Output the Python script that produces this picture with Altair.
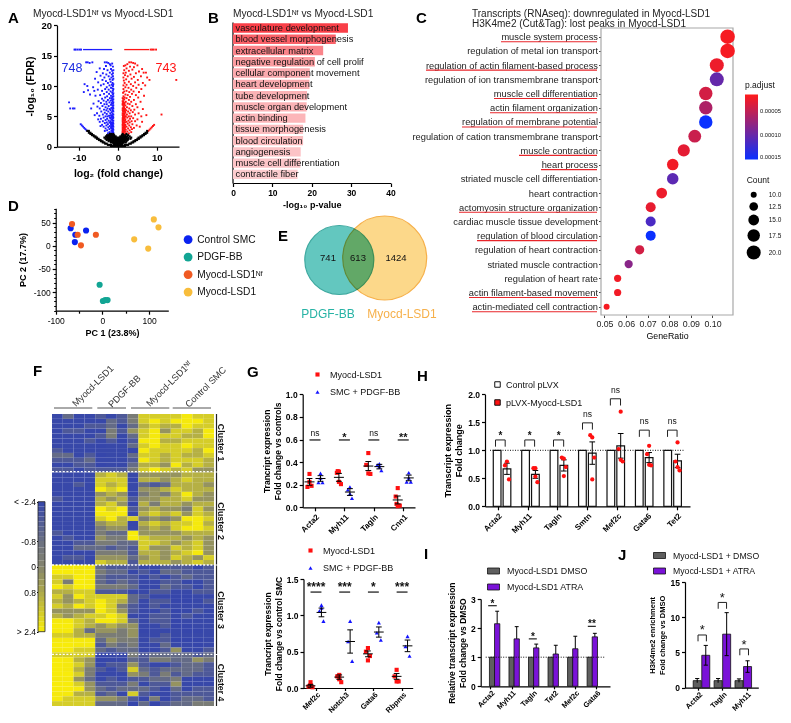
import altair as alt
import numpy as np
import pandas as pd

F = "Liberation Sans"
W, H = 775, 707

# ---------- DATA ----------
blue_pts = [(-8.2,13.9),(-7.8,13.9),(-7.3,13.8),(-6.6,13.9),(-3.4,13.9),(-2.9,13.9),(-2.5,13.8),(-2.1,13.6),(-3.1,13.3),(-1.9,13.4),(-1.5,13.7),(-1.3,13.2),
(-4.7,12.9),(-3.6,12.8),(-2.7,12.6),(-1.8,12.8),(-5.5,12.3),(-2.1,12.2),(-3.9,12.1),(-1.5,12.5),(-1.3,12.1),
(-3.0,11.9),(-1.6,11.9),(-4.5,11.7),(-2.4,11.6),(-1.7,11.4),(-3.5,11.4),(-5.9,11.2),(-1.3,11.6),(-2.1,11.1),(-1.4,11.0),(-4.0,11.0),
(-3.1,10.8),(-1.9,10.7),(-2.6,10.5),(-5.1,10.6),(-1.4,10.5),(-3.7,10.3),(-1.6,10.2),(-2.2,10.1),(-8.6,10.3),(-7.9,10.0),(-4.4,10.1),(-1.3,10.0),
(-2.9,9.8),(-1.8,9.7),(-6.4,9.8),(-1.4,9.6),(-3.3,9.5),(-2.4,9.4),(-7.7,9.3),(-5.2,9.4),(-1.3,9.2),(-1.9,9.1),(-4.1,9.2),(-8.8,9.0),(-2.9,9.0),(-6.1,9.2),
(-1.5,8.9),(-3.6,8.7),(-2.3,8.7),(-1.3,8.6),(-4.6,8.5),(-1.8,8.4),(-2.8,8.3),(-5.8,8.4),(-1.4,8.2),(-3.3,8.1),(-7.2,8.6),(-2.1,8.0),(-1.6,8.0),
(-4.1,7.9),(-1.3,7.8),(-2.6,7.7),(-1.9,7.6),(-3.7,7.6),(-1.4,7.5),(-5.0,7.5),(-3.0,7.4),(-2.2,7.3),(-1.6,7.2),(-1.3,7.1),(-4.4,7.2),(-6.3,7.1),(-2.9,7.0),(-3.5,7.0),
(-1.8,6.9),(-1.4,6.8),(-2.4,6.7),(-4.0,6.7),(-5.3,6.6),(-1.3,6.5),(-3.2,6.5),(-1.7,6.4),(-2.7,6.3),(-4.7,6.3),(-2.1,6.2),(-1.4,6.1),(-3.6,6.1),(-6.9,6.3),(-1.9,6.0),(-3.0,6.0),
(-1.3,5.9),(-2.5,5.8),(-4.3,5.8),(-1.6,5.7),(-3.4,5.6),(-2.0,5.5),(-5.4,5.5),(-1.4,5.4),(-2.9,5.4),(-3.9,5.3),(-1.8,5.2),(-2.3,5.1),(-1.3,5.0),(-4.8,5.1),(-3.2,5.0),(-2.7,5.0),(-6.0,5.2),
(-1.5,4.9),(-3.7,4.8),(-2.1,4.8),(-1.3,4.7),(-4.4,4.6),(-2.8,4.6),(-1.7,4.5),(-5.1,4.5),(-3.2,4.4),(-2.4,4.3),(-1.4,4.3),(-1.9,4.2),(-3.9,4.2),(-1.3,4.0),(-2.9,4.0),(-4.7,4.1),(-2.2,4.0),(-1.6,3.95),
(-3.4,3.9),(-1.4,3.8),(-2.6,3.7),(-1.8,3.7),(-4.1,3.6),(-1.3,3.5),(-3.0,3.5),(-2.1,3.4),(-3.7,3.3),(-1.5,3.3),(-2.5,3.2),(-1.8,3.1),(-1.3,3.0),(-3.2,3.0),(-4.5,3.4),(-2.2,2.9),
(-1.4,2.8),(-2.8,2.7),(-1.7,2.6),(-1.3,2.5),(-2.2,2.4),(-3.4,2.6),(-1.5,2.3),(-1.9,2.2),(-1.3,2.1),(-2.6,2.2),
(-1.2,2.3),(-1.2,2.8),(-1.2,3.3),(-1.2,3.8),(-1.2,4.3),(-1.2,4.8),(-1.2,5.3),(-1.2,5.8),(-1.2,6.3),(-1.2,6.8),(-1.2,7.3),(-1.2,7.8),(-1.2,8.3),(-1.2,8.8),(-1.2,9.5),(-1.2,10.3),(-1.2,11.2),(-1.2,12.6),
(-1.5,2.7),(-1.5,3.6),(-1.5,4.5),(-1.5,5.1),(-1.5,6.4),(-1.5,7.7),(-1.6,3.0),(-1.7,3.4),(-1.9,3.9),(-1.7,4.9),(-1.9,4.7),
(-9.6,3.7),(-9.3,3.5),(-9.0,3.3),(-8.7,3.1),(-8.4,2.9),(-8.1,2.7),
(-12.6,7.3),(-12.3,6.3),(-11.6,6.3),(-11.2,6.3)]

red_pts = [(2.9,13.9),(3.4,13.9),(3.9,13.8),(4.4,13.7),(2.4,13.6),(1.9,13.4),(5.0,13.4),(3.1,13.2),(1.5,13.3),(4.1,13.1),
(2.2,12.9),(6.2,12.8),(3.7,12.7),(1.6,12.6),(2.8,12.5),(5.4,12.4),(7.2,12.2),(2.0,12.2),(4.6,12.1),(6.6,12.2),(1.4,12.1),
(3.2,11.9),(1.8,11.8),(2.5,11.6),(5.9,11.6),(4.1,11.5),(1.4,11.4),(7.5,11.4),(3.5,11.2),(2.1,11.1),(8.1,11.0),(5.1,11.0),(1.5,10.9),
(2.8,10.7),(4.4,10.6),(1.7,10.5),(6.4,10.5),(3.3,10.3),(2.2,10.2),(1.4,10.1),(5.3,10.2),(3.9,10.0),(7.0,10.1),
(1.9,9.8),(2.7,9.7),(4.7,9.7),(1.4,9.5),(3.4,9.4),(6.0,9.5),(2.2,9.2),(1.6,9.1),(4.0,9.1),(2.9,9.0),(5.4,9.0),
(1.3,8.9),(3.6,8.7),(1.9,8.6),(2.5,8.5),(4.6,8.5),(1.4,8.3),(6.7,8.4),(3.1,8.2),(1.7,8.1),(2.2,8.0),(5.2,8.1),
(1.3,7.9),(1.6,7.8),(2.8,7.7),(4.1,7.7),(1.4,7.5),(2.0,7.4),(3.4,7.4),(5.8,7.4),(1.3,7.2),(1.7,7.2),(2.5,7.1),(4.6,7.0),(1.5,7.0),(3.0,7.0),
(1.2,6.9),(1.9,6.8),(1.4,6.7),(3.7,6.7),(1.6,6.5),(2.3,6.5),(5.0,6.5),(1.3,6.3),(2.9,6.3),(1.8,6.2),(1.4,6.1),(4.2,6.1),(2.1,6.0),(3.3,6.0),(6.4,6.2),(1.2,6.0),
(1.6,5.9),(1.3,5.8),(2.6,5.8),(3.8,5.7),(1.9,5.6),(1.4,5.5),(3.0,5.5),(5.3,5.5),(1.7,5.3),(2.3,5.3),(1.2,5.2),(4.4,5.3),(1.5,5.1),(3.4,5.0),(2.0,5.0),(2.8,5.0),(7.3,5.2),(6.0,5.0),
(1.3,4.9),(1.7,4.8),(2.4,4.8),(3.9,4.7),(1.4,4.6),(3.1,4.6),(1.9,4.5),(5.0,4.5),(1.2,4.4),(2.7,4.3),(1.6,4.3),(3.5,4.2),(2.2,4.1),(4.4,4.2),(1.4,4.0),(6.2,4.1),(1.8,4.0),(3.0,4.0),
(1.3,3.9),(2.5,3.8),(1.6,3.7),(3.7,3.7),(1.9,3.6),(1.2,3.5),(2.9,3.5),(4.8,3.5),(1.5,3.3),(2.2,3.3),(3.3,3.2),(1.8,3.2),(1.3,3.1),(2.6,3.0),(4.1,3.1),(5.6,3.3),(1.6,2.95),(3.6,2.9),
(1.2,2.9),(2.0,2.8),(3.0,2.7),(1.4,2.7),(1.8,2.5),(2.4,2.5),(1.2,2.4),(3.4,2.4),(1.5,2.3),(2.0,2.2),(1.3,2.1),(2.8,2.2),(1.6,2.05),
(1.2,2.2),(1.2,2.6),(1.2,3.2),(1.2,3.7),(1.2,4.1),(1.2,4.7),(1.2,5.5),(1.2,6.3),(1.2,7.1),(1.2,7.5),(1.2,8.0),(1.4,2.5),(1.4,3.0),(1.4,3.4),(1.4,3.8),(1.4,4.4),(1.4,4.9),(1.4,5.3),(1.4,5.9),(1.4,6.4),(1.4,7.0),
(1.6,2.6),(1.6,3.3),(1.6,4.0),(1.6,4.7),(1.6,5.5),(1.6,6.1),(1.6,6.9),(1.8,2.9),(1.8,3.5),(1.8,4.3),(1.8,5.0),(1.8,5.8),
(9.3,3.6),(9.0,3.4),(8.7,3.2),(8.4,3.0),(8.1,2.8),(7.8,2.6),(15.0,11.0),(11.2,5.3)]

black_rows = [
 (0.1, [-1.8,-1.4,-1.0,-0.6,-0.2,0.2,0.6,1.0,1.4,1.8]),
 (0.3, [-2.6,-2.2,-1.8,-1.0,-0.6,-0.2,0.2,0.6,1.0,1.8,2.2,2.6]),
 (0.5, [-3.3,-2.9,-1.2,-0.8,-0.4,0.0,0.4,0.8,1.2,2.9,3.3]),
 (0.7, [-3.9,-3.5,-1.8,-1.3,-0.9,-0.5,-0.1,0.3,0.7,1.1,1.5,2.0,3.5,3.9]),
 (0.9, [-4.4,-4.0,-2.4,-1.9,-1.5,-1.1,-0.7,-0.3,0.1,0.5,0.9,1.3,1.7,2.2,4.0,4.4]),
 (1.1, [-4.9,-4.5,-2.9,-2.4,-2.0,-1.6,-1.2,-0.8,-0.4,0.0,0.4,0.8,1.2,1.6,2.0,2.5,4.5,4.9]),
 (1.3, [-5.4,-5.0,-3.2,-2.7,-2.3,-1.9,-1.5,-1.1,-0.7,-0.3,0.1,0.5,0.9,1.3,1.7,2.1,2.6,3.2,5.0,5.4]),
 (1.5, [-5.8,-5.4,-3.5,-3.0,-2.6,-2.2,-1.8,-1.4,-1.0,-0.6,-0.2,0.2,0.6,1.0,1.4,1.8,2.2,2.7,3.4,5.3,5.8]),
 (1.7, [-6.2,-5.8,-3.1,-2.6,-2.2,-1.8,-1.4,-1.0,-0.6,0.6,1.0,1.4,1.8,2.3,3.0,5.8,6.2]),
 (1.9, [-6.7,-6.3,-2.8,-2.3,-1.8,-1.4,-1.0,1.0,1.4,1.9,2.6,6.3,6.7]),
 (2.1, [-7.1,-6.7,-2.1,-1.7,-1.2,1.2,2.2,6.7,7.1]),
 (2.3, [-7.5,-7.1,7.1,7.5]),
 (2.6, [-7.9,-7.5,7.5]),
]
top_blue_bars = [(-9.0, -1.5)]
top_blue_dots = [-11.2, -10.9, -10.4, -9.9, -9.5]
top_red_bars = [(1.6, 8.0)]
top_red_dots = [8.4, 8.8, 9.2, 9.8]

go_terms = ["vasculature development","blood vessel morphogenesis","extracellular matrix","negative regulation of cell prolif",
 "cellular component movement","heart development","tube development","muscle organ development","actin binding",
 "tissue morphogenesis","blood circulation","angiogenesis","muscle cell differentiation","contractile fiber"]
go_vals = [29.2,26.1,22.9,20.8,19.5,19.4,18.8,18.7,18.4,17.8,17.8,17.2,17.1,16.4]

c_terms = ["muscle system process","regulation of metal ion transport","regulation of actin filament-based process",
 "regulation of ion transmembrane transport","muscle cell differentiation","actin filament organization",
 "regulation of membrane potential","regulation of cation transmembrane transport","muscle contraction","heart process",
 "striated muscle cell differentiation","heart contraction","actomyosin structure organization","cardiac muscle tissue development",
 "regulation of blood circulation","regulation of heart contraction","striated muscle contraction","regulation of heart rate",
 "actin filament-based movement","actin-mediated cell contraction"]
c_ratio = [0.107,0.107,0.102,0.102,0.0969,0.0969,0.0969,0.0918,0.0867,0.0816,0.0816,0.0765,0.0714,0.0714,0.0714,0.0663,0.0612,0.0561,0.0561,0.051]
c_count = [21,21,20,20,19,19,19,18,17,16,16,15,14,14,14,13,12,11,11,10]
c_padj = [2e-5,2e-5,2.5e-5,1.0e-4,4e-5,6e-5,1.5e-4,4.5e-5,3e-5,2.2e-5,1.05e-4,2.5e-5,2.8e-5,1.15e-4,1.5e-4,4e-5,8e-5,2.2e-5,2.2e-5,2e-5]
c_underline_start = {"muscle system process":501,"regulation of actin filament-based process":426,"muscle cell differentiation":494,
 "actin filament organization":490,"regulation of membrane potential":462,"muscle contraction":519,"heart process":541,
 "actomyosin structure organization":459,"regulation of blood circulation":477,"actin filament-based movement":469,
 "actin-mediated cell contraction":472}

pca_groups = ["Control SMC","PDGF-BB","Myocd-LSD1\u1d3a\u1da0","Myocd-LSD1"]
pca_colors = ["#0a22f0","#12a594","#f05a22","#f8bd3c"]
pca_pc1 = [[-68,-35,-58,-59],[-6,1,6,11],[-65,-53,-14,-46],[110,120,68,98]]
pca_pc2 = [[38,33,24,8],[-84,-119,-117,-117],[47,24,24,1],[57,40,14,-6]]

heat_rows = [
"1311 212 4777 7877","1111 132 4787 8887","1112 231 3676 6877","1221 142 5785 7768","1111 241 3787 7668","1112 120 2886 6777",
"1111 011 3787 7877","2111 111 1877 7768","3312 011 3776 7667","2223 111 2876 7776","1122 011 3665 8676","2212 222 4797 6755",
"1111 676 1555 5666","1111 777 0665 6766","1121 767 1323 6665","1111 878 1556 7666","1111 565 0454 6865","2111 656 2556 6755",
"1111 675 0646 6566","1111 979 2565 5475","1111 888 1676 7576","1111 786 7454 5887","1111 566 0676 7786","1111 455 1565 7887",
"2111 433 9555 5666","1211 544 9766 6565","1122 443 3776 5675","1133 323 2755 7675","1111 444 2665 6785","1221 555 3565 7657","1111 766 2666 5676",
"8888 322 2112 2212","9989 433 1213 3222","7798 322 2121 2322","7498 323 2112 2112","8799 444 3113 2212","6677 222 1122 1122",
"7587 777 3211 0011","6567 876 3122 0012","7687 974 2121 1111","5555 875 2112 0121","6567 787 1122 1211","8876 887 3122 0111",
"9976 565 5112 0011","8863 554 5011 1001","7766 444 5112 1111","8888 354 4122 0001","9988 243 4113 1101","8877 323 3112 5112",
"7777 011 4233 3323","9865 011 3244 3354","9875 122 5211 2332","9864 212 7323 3332","9974 111 5424 2322","8853 121 2233 4111",
"9975 222 4122 5111","9985 323 3321 3122","8866 231 7211 2222","8777 554 2141 2332","7777 333 0302 3344"]

g1_genes = ["Acta2","Myh11","Tagln","Cnn1"]
g1_red = [[.295,.18,.19,.225],[.315,.305,.205,.225,.32],[.48,.375,.295,.30],[.17,.095,.015,.01,.03]]
g1_blue = [[.30,.22,.22,.26],[.18,.155,.08,.12],[.385,.375,.325,.36],[.305,.225,.225,.26]]
g1_red_mean = [.225,.265,.365,.065]; g1_red_sem = [.03,.035,.04,.035]
g1_blue_mean = [.255,.135,.36,.26]; g1_blue_sem = [.025,.03,.02,.025]
g1_sig = ["ns","*","ns","**"]

g2_genes = ["Mef2c","Notch3","Gata6","Rbpms"]
g2_red = [[.08,.02,.01,.04],[.18,.16,.08,.12],[.55,.5,.44,.38],[.25,.16,.09,.09]]
g2_blue = [[1.14,1.06,.92,1.10],[.92,.64,.37],[.9,.76,.66],[.71,.57,.44]]
g2_red_mean = [.03,.15,.47,.16]; g2_red_sem = [.02,.03,.04,.04]
g2_blue_mean = [1.04,.64,.77,.58]; g2_blue_sem = [.06,.16,.07,.08]
g2_sig = ["****","***","*","***"]

h_genes = ["Acta2","Myh11","Tagln","Smtn","Mef2c","Gata6","Tet2"]
h_mean = [.67,.57,.73,.95,1.08,.87,.81]
h_sem = [.1,.07,.1,.2,.22,.09,.12]
h_pts = [[.8,.73,.48],[.68,.68,.43,.53],[.85,.87,.7,.54],[1.23,1.27,.87,.48],[1.69,1.02,.8,.83],[1.08,.93,.73,.74],[1.14,.8,.64,.7]]
h_sig = ["*","*","*","ns","ns","ns","ns"]
h_brk_top = [1.185,1.185,1.185,1.49,1.92,1.36,1.36]
h_brk_l = [-.23,-.2,-.19,-.17,-.19,-.17,-.18]
h_brk_r = [.11,.145,.167,.178,.167,.178,.156]

i_genes = ["Acta2","Myh11","Tagln","Tet2","Mef2c","Gata6"]
i_atra = [2.15,1.63,1.32,1.11,1.29,1.70]
i_atra_top = [2.58,2.05,1.45,1.41,1.72,1.82]

j_genes = ["Acta2","Tagln","Myh11"]
j_atra = [4.6,7.6,3.0]
j_atra_err = [1.4,3.05,.82]
j_dmso_err = [.3,.3,.25]

# ---------- HELPERS ----------
def SX(dom, a, b, **kw):
    return alt.Scale(domain=dom, range=[a - 8, b - 8], nice=False, zero=False, **kw)

def SY(dom, bot, top, **kw):
    return alt.Scale(domain=dom, range=[bot - 8, top - 8], nice=False, zero=False, **kw)

def base_axis(**kw):
    d = dict(grid=False, domainColor="#000", domainWidth=1.2, tickColor="#000", tickWidth=1.2, tickSize=3.5,
             labelColor="#000", labelFont=F, labelFontWeight="bold", labelFontSize=8.5, titleFont=F,
             titleFontWeight="bold", titleFontSize=8.5, titleColor="#000", labelOverlap=False, minExtent=0,
             labelFlush=False, labelPadding=2, labelLimit=320)
    d.update(kw)
    return alt.Axis(**d)

def ax_left(x, **kw):
    return base_axis(orient="left", offset=-(x - 8), **kw)

def ax_bottom(y, **kw):
    return base_axis(orient="bottom", offset=-(H - (y - 8)), **kw)

def T(text, x, y, size=9, weight="normal", color="#111", align="left", angle=0):
    return alt.Chart().mark_text(text=text, align=align, baseline="middle", fontSize=size, fontWeight=weight,
                                 font=F, color=color, angle=angle).encode(x=alt.value(x - 8), y=alt.value(y - 8))

def cats(names):
    return "[" + ",".join("'%s'" % n for n in names) + "][datum.value]"

def carrier(sx, sy, xaxis, yaxis):
    df = pd.DataFrame({"a": [sx.domain[0]], "b": [sy.domain[0]]})
    return alt.Chart(df).mark_point(opacity=0).encode(
        x=alt.X("a:Q", scale=sx, axis=xaxis), y=alt.Y("b:Q", scale=sy, axis=yaxis))

def segs(rows, sx, sy, width=1.0, color="#000", dash=None):
    df = pd.DataFrame(rows, columns=["x0", "x1", "y0", "y1"])
    kw = dict(strokeWidth=width, color=color)
    if dash:
        kw["strokeDash"] = dash
    return alt.Chart(df).mark_rule(**kw).encode(
        x=alt.X("x0:Q", scale=sx, axis=None), x2="x1:Q", y=alt.Y("y0:Q", scale=sy, axis=None), y2="y1:Q")

def labels(rows, sx, sy, size=9, weight="normal", dy=0):
    df = pd.DataFrame(rows, columns=["x", "y", "t"])
    return alt.Chart(df).mark_text(fontSize=size, fontWeight=weight, font=F, color="#111", dy=dy).encode(
        x=alt.X("x:Q", scale=sx, axis=None), y=alt.Y("y:Q", scale=sy, axis=None), text="t:N")

LEG = dict(labelFont=F, labelColor="#111", orient="none")
JIT = [0, -.07, .07, 0, -.04]
HYPH = "replace(datum.label,'\u2212','-')"
LOWTICK = dict(labelAngle=315, labelAlign="right", labelBaseline="top", title=None, labelFontSize=7.5, tickSize=2.5, labelPadding=0)

panels = []

# ---------- A ----------
sxA = SX([-15.7, 15.7], 57, 179)
syA = SY([0, 20], 146.7, 25.3)
def vol_layer(pts, color):
    df = pd.DataFrame(pts, columns=["fc", "q"])
    return alt.Chart(df).mark_point(filled=True, shape="square", size=3.6, color=color, opacity=1, strokeWidth=0).encode(
        x=alt.X("fc:Q", scale=sxA, axis=None), y=alt.Y("q:Q", scale=syA, axis=None))
black_pts = [(x, r[0]) for r in black_rows for x in r[1]]
panels.append(alt.layer(
    vol_layer(blue_pts, "#1c1cff"), vol_layer(red_pts, "#ff1414"),
    alt.Chart(pd.DataFrame(black_pts, columns=["fc", "q"])).mark_point(filled=True, shape="square", size=4.5, color="#000", opacity=1, strokeWidth=0).encode(
        x=alt.X("fc:Q", scale=sxA, axis=None), y=alt.Y("q:Q", scale=syA, axis=None)),
    vol_layer([(x, 16) for x in top_blue_dots], "#1c1cff"), vol_layer([(x, 16) for x in top_red_dots], "#ff1414"),
    segs([(a, b, 16, 16) for a, b in top_blue_bars], sxA, syA, 1.3, "#1c1cff"),
    segs([(a, b, 16, 16) for a, b in top_red_bars], sxA, syA, 1.3, "#ff1414"),
))
panels.append(carrier(sxA, syA,
    ax_bottom(146.7, values=[-10, 0, 10], title="log\u2082 (fold change)", labelFontSize=9.5, titleFontSize=10.5, titlePadding=7, labelExpr=HYPH),
    ax_left(57, values=[0, 5, 10, 15, 20], title="-log\u2081\u2080 (FDR)", labelFontSize=9.5, titleFontSize=10.5, titlePadding=5)))
panels += [T("Myocd-LSD1\u1d3a\u1da0 vs Myocd-LSD1", 33, 14, 10.2, color="#222"),
           T("748", 72, 68, 12.5, color="#1c2be0", align="center"), T("743", 166, 68, 12.5, color="#ff1414", align="center")]

# ---------- B ----------
sxB = SX([0, 40], 233, 390.5)
syB = alt.Scale(domain=go_terms, range=[22.4 - 8, 180 - 8], paddingInner=0.17, paddingOuter=0.08)
dfB = pd.DataFrame({"term": go_terms, "v": go_vals})
panels.append(alt.layer(
    alt.Chart(dfB).mark_bar().encode(
        x=alt.X("v:Q", scale=sxB, axis=None),
        y=alt.Y("term:N", scale=syB, axis=None),
        color=alt.Color("v:Q", scale=alt.Scale(domain=[16.4, 29.2], range=["#fcccce", "#f93f48"], interpolate="rgb"), legend=None)),
    alt.Chart(dfB).mark_text(align="left", fontSize=9.3, font=F, color="#111", dx=2.5).transform_calculate(z="0").encode(
        x=alt.X("z:Q", scale=sxB, axis=None),
        y=alt.Y("term:N", scale=syB, axis=None), text="term:N"),
))
panels.append(alt.Chart(dfB).mark_point(opacity=0).encode(
    x=alt.X("v:Q", scale=sxB, axis=ax_bottom(183, values=[0, 10, 20, 30, 40], title="-log\u2081\u2080 p-value", titlePadding=3, labelFontSize=8.5, titleFontSize=9)),
    y=alt.Y("term:N", scale=alt.Scale(domain=go_terms, range=[22 - 8, 183 - 8]), axis=base_axis(orient="left", offset=-(232.5 - 8), ticks=False, labels=False, title=None))))
panels.append(T("Myocd-LSD1\u1d3a\u1da0 vs Myocd-LSD1", 233, 14, 10.2, color="#222"))

# ---------- C ----------
sxC = SX([0.0484, 0.1095], 601, 733)
syC = alt.Scale(domain=c_terms, range=[29.6 - 8, 313.8 - 8], paddingInner=1, paddingOuter=0.5)
dfC = pd.DataFrame({"term": c_terms, "r": c_ratio, "n": c_count, "p": c_padj})
panels.append(alt.layer(
    alt.Chart().mark_rect(fill="white", stroke="#a8a8a8", strokeWidth=1.2).encode(
        x=alt.value(601 - 8), x2=alt.value(733 - 8), y=alt.value(28 - 8), y2=alt.value(315 - 8)),
    alt.Chart(dfC).mark_circle(opacity=1, clip=True).transform_calculate(np="-datum.p").encode(
        x=alt.X("r:Q", scale=sxC, axis=ax_bottom(315, values=[.05, .06, .07, .08, .09, .10], format=".2f", title="GeneRatio",
                                                domain=False, tickColor="#444", tickWidth=1, tickSize=2.5, labelFontWeight="normal",
                                                labelFontSize=8.8, titleFontWeight="normal", titleFontSize=8.8, titlePadding=3, labelColor="#222")),
        y=alt.Y("term:N", scale=syC, axis=base_axis(orient="left", offset=-(601 - 8), domain=False, tickColor="#444", tickWidth=1, tickSize=2.5,
                                                   labelFontWeight="normal", labelFontSize=9.3, labelColor="#222", title=None, labelPadding=1)),
        color=alt.Color("np:Q", scale=alt.Scale(domain=[-1.5e-4, -1.5e-5], range=["#0a30ff", "#ff1a1a"], clamp=True, interpolate="rgb"), title="p.adjust",
                        legend=alt.Legend(legendX=745 - 8, legendY=81 - 8, values=[-5e-5, -1e-4, -1.5e-4],
                                          labelExpr="format(-datum.value,'.5f')", gradientLength=65, gradientThickness=13,
                                          titleFont=F, titleFontWeight="normal", titleFontSize=8.5, titleColor="#111", labelFontSize=5.8, titlePadding=5, tickCount=3, **LEG)),
        size=alt.Size("n:Q", scale=alt.Scale(domain=[10, 20], range=[36, 196], zero=False), title="Count",
                      legend=alt.Legend(legendX=746.7 - 8, legendY=176 - 8, values=[10, 12.5, 15, 17.5, 20], format=".1f", symbolFillColor="#000",
                                        symbolStrokeWidth=0, titleFont=F, titleFontWeight="normal", titleFontSize=8.5, titleColor="#111", labelFontSize=6.5,
                                        rowPadding=3.5, labelOffset=8, titlePadding=7, symbolType="circle", **LEG))),
))
ul = pd.DataFrame([{"term": k, "x0": v - 8, "x1": 597 - 8} for k, v in c_underline_start.items()])
panels.append(alt.Chart(ul).mark_rule(color="#e8252a", strokeWidth=1.1, yOffset=5).encode(
    x=alt.X("x0:Q", scale=None), x2="x1:Q", y=alt.Y("term:N", scale=syC, axis=None)))
panels += [T("Transcripts (RNAseq): downregulated in Myocd-LSD1", 472, 13.5, 10, color="#222"),
           T("H3K4me2 (Cut&Tag): lost peaks in Myocd-LSD1", 472, 24, 10, color="#222")]

# ---------- D ----------
sxD = SX([-100, 141], 55.7, 168.3)
syD = SY([-140, 81], 310.7, 208.3)
dfD = pd.DataFrame([{"g": g, "a": a, "b": b} for g, xs, ys in zip(pca_groups, pca_pc1, pca_pc2) for a, b in zip(xs, ys)])
panels.append(alt.Chart(dfD).mark_circle(size=38, opacity=1).encode(
    x=alt.X("a:Q", scale=sxD, axis=ax_bottom(310.7, values=[-100, 0, 100], title="PC 1 (23.8%)", titlePadding=4, labelFontWeight="normal", labelFontSize=8.5, titleFontSize=9, labelExpr=HYPH)),
    y=alt.Y("b:Q", scale=syD, axis=ax_left(55.7, values=[-100, -50, 0, 50], title="PC 2 (17.7%)", titlePadding=6, labelFontWeight="normal", labelFontSize=8.5, titleFontSize=9, labelExpr=HYPH)),
    color=alt.Color("g:N", title=None, scale=alt.Scale(domain=pca_groups, range=pca_colors),
                    legend=alt.Legend(legendX=183 - 8, legendY=234.5 - 8, symbolSize=78, labelFontSize=10.2, rowPadding=6.5, symbolStrokeWidth=0, **LEG))))
panels.append(alt.Chart(dfD).mark_circle(opacity=0).encode(
    x=alt.X("a:Q", scale=sxD, axis=ax_bottom(310.7, values=[-50, 50], title=None, labels=False, domain=False, tickSize=2.5)),
    y=alt.Y("b:Q", scale=syD, axis=ax_left(55.7, values=[-140, -130, -120, -110, -90, -80, -70, -60, -40, -30, -20, -10, 10, 20, 30, 40, 60, 70, 80],
                                         title=None, labels=False, domain=False, tickSize=2, tickWidth=1))))

# ---------- E ----------
panels += [
    alt.Chart().mark_circle(size=7056, color="#fcd88a", opacity=1, stroke="#f6b04a", strokeWidth=1.2).encode(x=alt.value(384.7 - 8), y=alt.value(258 - 8)),
    alt.Chart().mark_circle(size=4761, color="#63c7bf", opacity=1, stroke="#3fa9a0", strokeWidth=1.2, blend="multiply").encode(x=alt.value(339.3 - 8), y=alt.value(260 - 8)),
    T("741", 328, 258, 9.5, align="center"), T("613", 358, 258, 9.5, align="center"), T("1424", 396, 258, 9.5, align="center"),
    T("PDGF-BB", 328, 314, 12, color="#27b3a5", align="center"), T("Myocd-LSD1", 402, 314, 12, color="#f6b04a", align="center"),
]

# ---------- F ----------
rows = [r.replace(" ", "") for r in heat_rows]
dfF = pd.DataFrame([{"r": i, "c": j, "v": float(np.clip((int(ch) - 4.5) / 4.5 * 2.4 * 1.25, -2.4, 2.4))} for i, r in enumerate(rows) for j, ch in enumerate(r)])
heat_color = alt.Scale(domain=[-2.4, 0, 2.4], range=["#3646ab", "#85856e", "#f8ec0a"], interpolate="rgb")
panels.append(alt.Chart(dfF).mark_rect().encode(
    x=alt.X("c:O", scale=alt.Scale(domain=list(range(15)), range=[52 - 8, 214 - 8], paddingInner=0, paddingOuter=0), axis=None),
    y=alt.Y("r:O", scale=alt.Scale(domain=list(range(60)), range=[414 - 8, 706 - 8], paddingInner=0, paddingOuter=0), axis=None),
    color=alt.Color("v:Q", scale=heat_color, legend=None)))
for y in [471.7, 565, 654.3]:
    panels.append(alt.Chart().mark_rule(color="white", strokeWidth=1.3, strokeDash=[2, 1.6]).encode(
        x=alt.value(52 - 8), x2=alt.value(216 - 8), y=alt.value(y - 8)))
for a, b in [(414, 471.5), (472.5, 564.5), (565.5, 654), (655, 706)]:
    panels.append(alt.Chart().mark_rule(color="#222", strokeWidth=1.2).encode(
        x=alt.value(216.5 - 8), y=alt.value(a - 8), y2=alt.value(b - 8)))
for a, b in [(54, 92.3), (97.3, 126), (131, 169.3), (172.7, 211)]:
    panels.append(alt.Chart().mark_rule(color="#555", strokeWidth=1).encode(
        x=alt.value(a - 8), x2=alt.value(b - 8), y=alt.value(408 - 8)))
panels += [T("Cluster %d" % (i + 1), 221, y, 8.8, "bold", "#111", "center", 90) for i, y in enumerate([442.7, 521, 610, 682.7])]
panels += [T("Myocd-LSD1", 74, 405, 9.3, color="#333", angle=315), T("PDGF-BB", 110, 406, 9.3, color="#333", angle=315),
           T("Myocd-LSD1\u1d3a\u1da0", 148, 405, 9.3, color="#333", angle=315), T("Control SMC", 187, 406, 9.3, color="#333", angle=315)]
# colour bar
ramp = np.round(np.arange(-2.4, 2.4, 0.2), 1)
dfR = pd.DataFrame({"lo": ramp, "hi": np.round(ramp + 0.2, 1), "m": ramp + 0.1})
syCB = alt.Scale(domain=[-2.4, -0.8, 0, 0.8, 2.4], range=[501.7 - 8, 541 - 8, 566.7 - 8, 592 - 8, 631.7 - 8], nice=False, zero=False)
panels.append(alt.Chart(dfR).mark_rect(x=38 - 8, x2=45 - 8).encode(
    y=alt.Y("lo:Q", scale=syCB, axis=ax_left(38, values=[-2.4, -0.8, 0, 0.8, 2.4], title=None, labelFontWeight="normal", labelFontSize=8.5,
                                            labelPadding=1, domain=False, tickSize=1.5, tickWidth=1,
                                            labelExpr="datum.value==-2.4?'< -2.4':datum.value==2.4?'> 2.4':datum.value==-0.8?'-0.8':datum.value==0?'0':'0.8'")),
    y2="hi:Q", color=alt.Color("m:Q", scale=heat_color, legend=None)))
panels.append(alt.Chart().mark_rect(fill=None, stroke="#222", strokeWidth=0.8, filled=False).encode(
    x=alt.value(38 - 8), x2=alt.value(45 - 8), y=alt.value(501.7 - 8), y2=alt.value(631.7 - 8)))

# ---------- G ----------
def dot_panel(genes, reds, blues, rm, rs, bm, bs, sig, sigy, sigdy, sigsize, sigw, sx, sy, off, legx, legy):
    recs = []
    for i in range(len(genes)):
        for k, v in enumerate(reds[i]):
            recs.append({"g": "Myocd-LSD1", "p": i - off + JIT[k], "v": v})
        for k, v in enumerate(blues[i]):
            recs.append({"g": "SMC + PDGF-BB", "p": i + off + JIT[k], "v": v})
    df = pd.DataFrame(recs)
    err = []
    for i in range(len(genes)):
        for c, m, s in [(i - off, rm[i], rs[i]), (i + off, bm[i], bs[i])]:
            err += [(c, c, m - s, m + s), (c - .17, c + .17, m, m), (c - .1, c + .1, m - s, m - s), (c - .1, c + .1, m + s, m + s)]
    stat = [(i - off, i + off, sigy, sigy) for i in range(len(genes))]
    txt = [(float(i), sigy, sig[i]) for i in range(len(genes))]
    groups = ["Myocd-LSD1", "SMC + PDGF-BB"]
    pts = alt.Chart(df).mark_point(filled=True, opacity=1, size=17, strokeWidth=0).encode(
        x=alt.X("p:Q", scale=sx, axis=None), y=alt.Y("v:Q", scale=sy, axis=None),
        color=alt.Color("g:N", title=None, scale=alt.Scale(domain=groups, range=["#ff1010", "#1414ff"]),
                        legend=alt.Legend(legendX=legx - 8, legendY=legy - 8, symbolSize=17, labelFontSize=9, rowPadding=7.5, labelOffset=8, symbolStrokeWidth=0, **LEG)),
        shape=alt.Shape("g:N", title=None, scale=alt.Scale(domain=groups, range=["square", "triangle-up"])))
    return alt.layer(pts, segs(err, sx, sy, 1.0), segs(stat, sx, sy, 1.4, "#333"),
                     *[labels([t], sx, sy, sigsize if t[2] != "ns" else 8.5, sigw if t[2] != "ns" else "normal",
                              sigdy if t[2] != "ns" else -7) for t in txt])

sxG1 = SX([-.418, 3.40], 302.7, 415)
syG1 = SY([0, 1], 507.3, 394.3)
panels.append(dot_panel(g1_genes, g1_red, g1_blue, g1_red_mean, g1_red_sem, g1_blue_mean, g1_blue_sem, g1_sig, .596, -2, 11, "bold", sxG1, syG1, .187, 313, 370))
panels.append(carrier(sxG1, syG1,
    ax_bottom(507.3, values=[0, 1, 2, 3], labelExpr=cats(g1_genes), labelAngle=315, labelAlign="right", labelBaseline="top", title=None, labelFontSize=8),
    ax_left(302.7, values=[0, .2, .4, .6, .8, 1], format=".1f", title=["Trancript expression", "Fold change vs controls"], titlePadding=3, titleFontSize=8.5, titleLineHeight=11)))
sxG2 = SX([-.435, 3.37], 303.5, 412.7)
syG2 = SY([0, 1.5], 688, 579)
panels.append(dot_panel(g2_genes, g2_red, g2_blue, g2_red_mean, g2_red_sem, g2_blue_mean, g2_blue_sem, g2_sig, 1.32, -5, 12, "bold", sxG2, syG2, .19, 306, 546))
panels.append(carrier(sxG2, syG2,
    ax_bottom(688, values=[0, 1, 2, 3], labelExpr=cats(g2_genes), **LOWTICK),
    ax_left(303.5, values=[0, .5, 1, 1.5], format=".1f", title=["Trancript expression", "Fold change vs control SMC"], titlePadding=3, titleFontSize=8.5, titleLineHeight=11)))

# ---------- H ----------
sxH = SX([-.424, 6.435], 485, 690)
syH = SY([0, 2], 506.3, 394.3)
offH = .173
n = len(h_genes)
bars = pd.DataFrame({"p": [i - offH for i in range(n)] + [i + offH for i in range(n)], "v": [1.0] * n + h_mean})
hpts = pd.DataFrame([{"p": i + offH + [0, -.07, .07, 0][k], "v": v, "g": "pLVX-Myocd-LSD1"} for i, vs in enumerate(h_pts) for k, v in enumerate(vs)])
herr = []
for i in range(n):
    c, m, s = i + offH, h_mean[i], h_sem[i]
    herr += [(c, c, m - s, m + s), (c - .1, c + .1, m - s, m - s), (c - .1, c + .1, m + s, m + s)]
hbr = []
htx = []
for i in range(n):
    a, b, t = i + h_brk_l[i], i + h_brk_r[i], h_brk_top[i]
    hbr += [(a, b, t, t), (a, a, t, t - .12), (b, b, t, t - .12)]
    htx.append(((a + b) / 2, t + (.115 if h_sig[i] == "*" else .16), h_sig[i]))
h_groups = ["Control pLVX", "pLVX-Myocd-LSD1"]
panels.append(alt.layer(
    alt.Chart(bars).mark_bar(size=7.7, fill="white", stroke="#111", strokeWidth=1.2, orient="vertical").encode(
        x=alt.X("p:Q", scale=sxH, axis=None), y=alt.Y("v:Q", scale=syH, axis=None)),
    segs(herr, sxH, syH, 1.0),
    alt.Chart(hpts).mark_circle(size=18, opacity=1).encode(
        x=alt.X("p:Q", scale=sxH, axis=None), y=alt.Y("v:Q", scale=syH, axis=None),
        color=alt.Color("g:N", title=None, scale=alt.Scale(domain=h_groups, range=["white", "#ff1010"]),
                        legend=alt.Legend(legendX=493 - 8, legendY=380 - 8, symbolType="square", symbolSize=30, symbolStrokeColor="#111", symbolStrokeWidth=1, labelFontSize=9, rowPadding=7, labelOffset=4, **LEG))),
    segs([(-.424, 6.435, 1, 1)], sxH, syH, 1.0, "#111", [1, 1.5]),
    segs(hbr, sxH, syH, 1.0, "#222"),
    labels([t for t in htx if t[2] == "ns"], sxH, syH, 8.5),
    labels([t for t in htx if t[2] == "*"], sxH, syH, 10, "bold", 2),
))
panels.append(carrier(sxH, syH,
    ax_bottom(506.3, values=list(range(n)), labelExpr=cats(h_genes), labelAngle=315, labelAlign="right", labelBaseline="top", title=None, labelFontSize=8),
    ax_left(485, values=[0, .5, 1, 1.5, 2], format=".1f", title=["Transcript expression", "Fold change"], titlePadding=4, titleFontSize=9, titleLineHeight=11)))

# ---------- I ----------
GP = ["#5f5f5f", "#7a12d8"]
BAR_SYM = "M-1,-0.5H1V0.5H-1Z"
sxI = SX([-.457, 5.65], 480.7, 610)
syI = SY([0, 3], 686.3, 599)
offI = .13
nI = len(i_genes)
i_g = ["Myocd-LSD1 DMSO", "Myocd-LSD1 ATRA"]
barsI = pd.DataFrame({"p": [i - offI for i in range(nI)] + [i + offI for i in range(nI)], "v": [1.0] * nI + i_atra, "g": [i_g[0]] * nI + [i_g[1]] * nI})
ierr = []
for i in range(nI):
    c = i + offI
    ierr += [(c, c, i_atra[i], i_atra_top[i]), (c - .1, c + .1, i_atra_top[i], i_atra_top[i])]
panels.append(alt.layer(
    alt.Chart(barsI).mark_bar(size=5.3, stroke="#111", strokeWidth=0.8, orient="vertical").encode(
        x=alt.X("p:Q", scale=sxI, axis=None), y=alt.Y("v:Q", scale=syI, axis=None),
        color=alt.Color("g:N", title=None, scale=alt.Scale(domain=i_g, range=GP),
                        legend=alt.Legend(legendX=487 - 8, legendY=564.5 - 8, symbolType=BAR_SYM, symbolSize=144, symbolStrokeColor="#111", symbolStrokeWidth=0.8, labelFontSize=8.9, rowPadding=4, labelOffset=7, **LEG))),
    segs(ierr, sxI, syI, 1.0),
    segs([(-.457, 5.65, 1, 1)], sxI, syI, 1.0, "#111", [1, 1.5]),
    segs([(-.33, .11, 2.77, 2.77), (1.75, 2.16, 1.63, 1.63), (4.77, 5.18, 2.06, 2.06)], sxI, syI, 1.2, "#222"),
    labels([(-.11, 2.9, "*"), (1.96, 1.76, "*"), (4.98, 2.2, "**")], sxI, syI, 10, "bold", 2),
))
panels.append(carrier(sxI, syI,
    ax_bottom(686.3, values=list(range(nI)), labelExpr=cats(i_genes), **LOWTICK),
    ax_left(480.7, values=[0, 1, 2, 3], format="d", title=["Relative transcript expression", "Fold change vs DMSO"], titlePadding=3, titleFontSize=8.5, titleLineHeight=11)))

# ---------- J ----------
sxJ = SX([-.55, 2.48], 685, 758.3)
syJ = SY([0, 15], 687.7, 582)
offJ = .205
nJ = len(j_genes)
j_g = ["Myocd-LSD1 + DMSO", "Myocd-LSD1 + ATRA"]
barsJ = pd.DataFrame({"p": [i - offJ for i in range(nJ)] + [i + offJ for i in range(nJ)], "v": [1.0] * nJ + j_atra, "g": [j_g[0]] * nJ + [j_g[1]] * nJ})
jerr = []
for i in range(nJ):
    c, m, s = i + offJ, j_atra[i], j_atra_err[i]
    jerr += [(c, c, m - s, m + s), (c - .1, c + .1, m - s, m - s), (c - .1, c + .1, m + s, m + s)]
    c, m, s = i - offJ, 1.0, j_dmso_err[i]
    jerr += [(c, c, m - s, m + s), (c - .1, c + .1, m + s, m + s)]
jbr = []
for a, b, t in [(-.166, .234, 7.48), (.8, 1.2, 12.1), (1.835, 2.25, 5.5)]:
    jbr += [(a, b, t, t), (a, a, t, t - .9), (b, b, t, t - .9)]
panels.append(alt.layer(
    alt.Chart(barsJ).mark_bar(size=8, stroke="#111", strokeWidth=0.8, orient="vertical").encode(
        x=alt.X("p:Q", scale=sxJ, axis=None), y=alt.Y("v:Q", scale=syJ, axis=None),
        color=alt.Color("g:N", title=None, scale=alt.Scale(domain=j_g, range=GP),
                        legend=alt.Legend(legendX=653 - 8, legendY=549 - 8, symbolType=BAR_SYM, symbolSize=144, symbolStrokeColor="#111", symbolStrokeWidth=0.8, labelFontSize=8.7, rowPadding=3.5, labelOffset=7, **LEG))),
    segs(jerr, sxJ, syJ, 1.0),
    segs(jbr, sxJ, syJ, 1.0, "#222"),
    labels([(.034, 8.6, "*"), (1.0, 13.1, "*"), (2.04, 6.5, "*")], sxJ, syJ, 13, "normal", 3),
))
panels.append(carrier(sxJ, syJ,
    ax_bottom(687.7, values=list(range(nJ)), labelExpr=cats(j_genes), **LOWTICK),
    ax_left(685, values=[0, 5, 10, 15], format="d", title=["H3K4me2 enrichment", "Fold change vs DMSO"], titlePadding=4, titleFontSize=7.5, titleLineHeight=10)))

# ---------- letters ----------
for txt, x, y in [("A", 8, 18), ("B", 208, 18), ("C", 416, 18), ("D", 8, 206), ("E", 278, 236), ("F", 33, 371),
                  ("G", 247, 372), ("H", 417, 376), ("I", 424, 554), ("J", 618, 555)]:
    panels.append(T(txt, x, y, 15, "bold", "#000"))

chart = alt.layer(*panels).resolve_scale(x="independent", y="independent", color="independent", size="independent", shape="independent").properties(
    width=W, height=H, padding=0, autosize=alt.AutoSizeParams(type="none"), background="white"
).configure_view(strokeWidth=0)

chart.save("out.html", embed_options={"renderer": "svg", "actions": False})
